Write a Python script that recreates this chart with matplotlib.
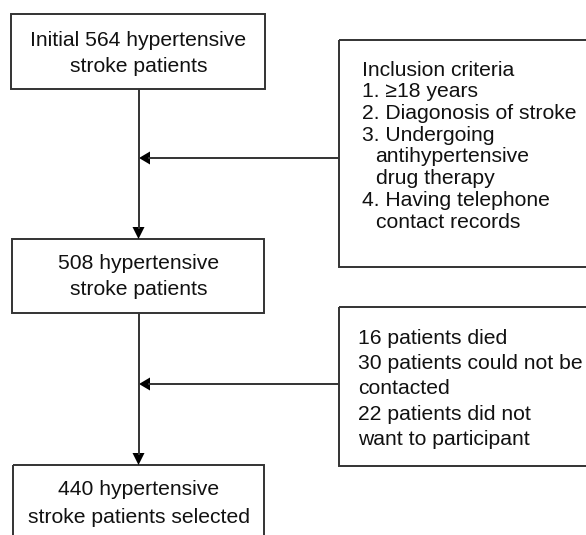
import matplotlib
matplotlib.use("Agg")
import matplotlib.pyplot as plt
from matplotlib.patches import Rectangle, Polygon

# ---- content ----
main_texts = [
    ["Initial 564 hypertensive", "stroke patients"],
    ["508 hypertensive", "stroke patients"],
    ["440 hypertensive", "stroke patients selected"],
]
side_texts = [
    ["Inclusion criteria", "1. \u226518 years", "2. Diagonosis of stroke",
     "3. Undergoing", "   antihypertensive", "   drug therapy",
     "4. Having telephone", "   contact records"],
    ["16 patients died", "30 patients could not be", "contacted",
     "22 patients did not", "want to participant"],
]

# ---- layout (pixel units) ----
W, H = 586, 535
main_boxes = [(11, 14, 265, 89), (12, 239, 264, 313), (13, 465, 264, 540)]
main_baselines = [(46, 72), (269, 295), (495, 523)]
cx = 138.5
side_boxes = [(339, 40, 592, 267), (339, 307, 592, 466)]
side_x = [362.5, 358]
side_first = [75.7, 344]
side_step = [21.7, 25.2]
indent_x = 375.5
arrow_y = [158, 384]

col = "#333333"
lw = 1.4
fs = 15.2
font = "Liberation Sans"

fig = plt.figure(figsize=(W / 100, H / 100), dpi=100)
ax = fig.add_axes([0, 0, 1, 1])
ax.set_xlim(0, W)
ax.set_ylim(H, 0)
ax.axis("off")

def rect(b):
    x0, y0, x1, y1 = b
    ax.add_patch(Rectangle((x0, y0), x1 - x0, y1 - y0, fill=False,
                           edgecolor=col, lw=lw))

def head_down(x, y):
    ax.add_patch(Polygon([(x - 6, y - 12), (x + 6, y - 12), (x, y)],
                         closed=True, color="black", lw=0))

def head_left(x, y):
    ax.add_patch(Polygon([(x + 11, y - 6.5), (x + 11, y + 6.5), (x, y)],
                         closed=True, color="black", lw=0))

for b, lines, bl in zip(main_boxes, main_texts, main_baselines):
    rect(b)
    for t, y in zip(lines, bl):
        ax.text(cx, y, t, ha="center", va="baseline", fontsize=fs,
                family=[font, "DejaVu Sans"], color="#111111")

for i, (b, lines) in enumerate(zip(side_boxes, side_texts)):
    rect(b)
    for j, t in enumerate(lines):
        y = side_first[i] + j * side_step[i]
        x = side_x[i]
        if t.startswith("   "):
            t = t.strip()
            x = indent_x
        ax.text(x, y, t, ha="left", va="baseline", fontsize=fs,
                family=[font, "DejaVu Sans"], color="#111111")

# vertical connectors
for k in range(2):
    y0 = main_boxes[k][3]
    y1 = main_boxes[k + 1][1]
    ax.plot([cx, cx], [y0, y1 - 10], color=col, lw=lw, solid_capstyle="butt")
    head_down(cx, y1)

# horizontal connectors
for k in range(2):
    y = arrow_y[k]
    ax.plot([side_boxes[k][0], cx + 9], [y, y], color=col, lw=lw,
            solid_capstyle="butt")
    head_left(cx + 0.5, y)

fig.savefig("out.png", dpi=100)
